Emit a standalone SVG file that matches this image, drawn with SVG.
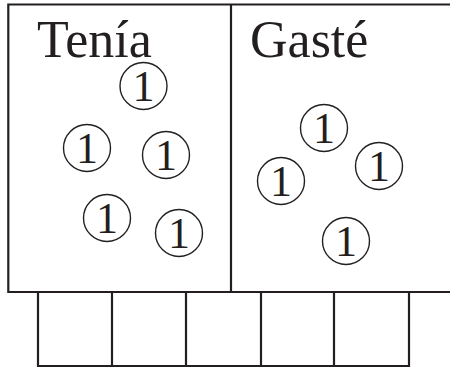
<svg xmlns="http://www.w3.org/2000/svg" width="450" height="368" viewBox="0 0 450 368">
<style>
.ln{fill:none;stroke:#231f20;stroke-width:2.2}
.c{fill:none;stroke:#231f20;stroke-width:1.4}
.t{font-family:"Liberation Serif","Times New Roman",serif;fill:#231f20}
.lbl{font-size:52px}
.n{font-size:44px;text-anchor:middle}
</style>
<g id="panels">
<path class="ln" d="M451 4.5 H8.3 V292 H451 M231 4.5 V292"/>
</g>
<g id="cells">
<path class="ln" d="M38 292 V366 H409 V292 M112 292 V366 M186 292 V366 M261 292 V366 M334 292 V366"/>
</g>
<g id="label-tenia"><text class="t lbl" x="37" y="57">Tenía</text></g>
<g id="label-gaste"><text class="t lbl" x="250" y="57">Gasté</text></g>
<g id="coin-l1"><circle class="c" cx="143.5" cy="86" r="23.5"/><text class="t n" x="143.5" y="101">1</text></g>
<g id="coin-l2"><circle class="c" cx="87" cy="148" r="23.5"/><text class="t n" x="87" y="163">1</text></g>
<g id="coin-l3"><circle class="c" cx="166" cy="155" r="23.5"/><text class="t n" x="166" y="170">1</text></g>
<g id="coin-l4"><circle class="c" cx="107" cy="218" r="23.5"/><text class="t n" x="107" y="233">1</text></g>
<g id="coin-l5"><circle class="c" cx="179" cy="233" r="23.5"/><text class="t n" x="179" y="248">1</text></g>
<g id="coin-r1"><circle class="c" cx="324" cy="128" r="23.5"/><text class="t n" x="324" y="143">1</text></g>
<g id="coin-r2"><circle class="c" cx="281" cy="181" r="23.5"/><text class="t n" x="281" y="196">1</text></g>
<g id="coin-r3"><circle class="c" cx="379" cy="166" r="23.5"/><text class="t n" x="379" y="181">1</text></g>
<g id="coin-r4"><circle class="c" cx="346" cy="241" r="23.5"/><text class="t n" x="346" y="256">1</text></g>
</svg>
